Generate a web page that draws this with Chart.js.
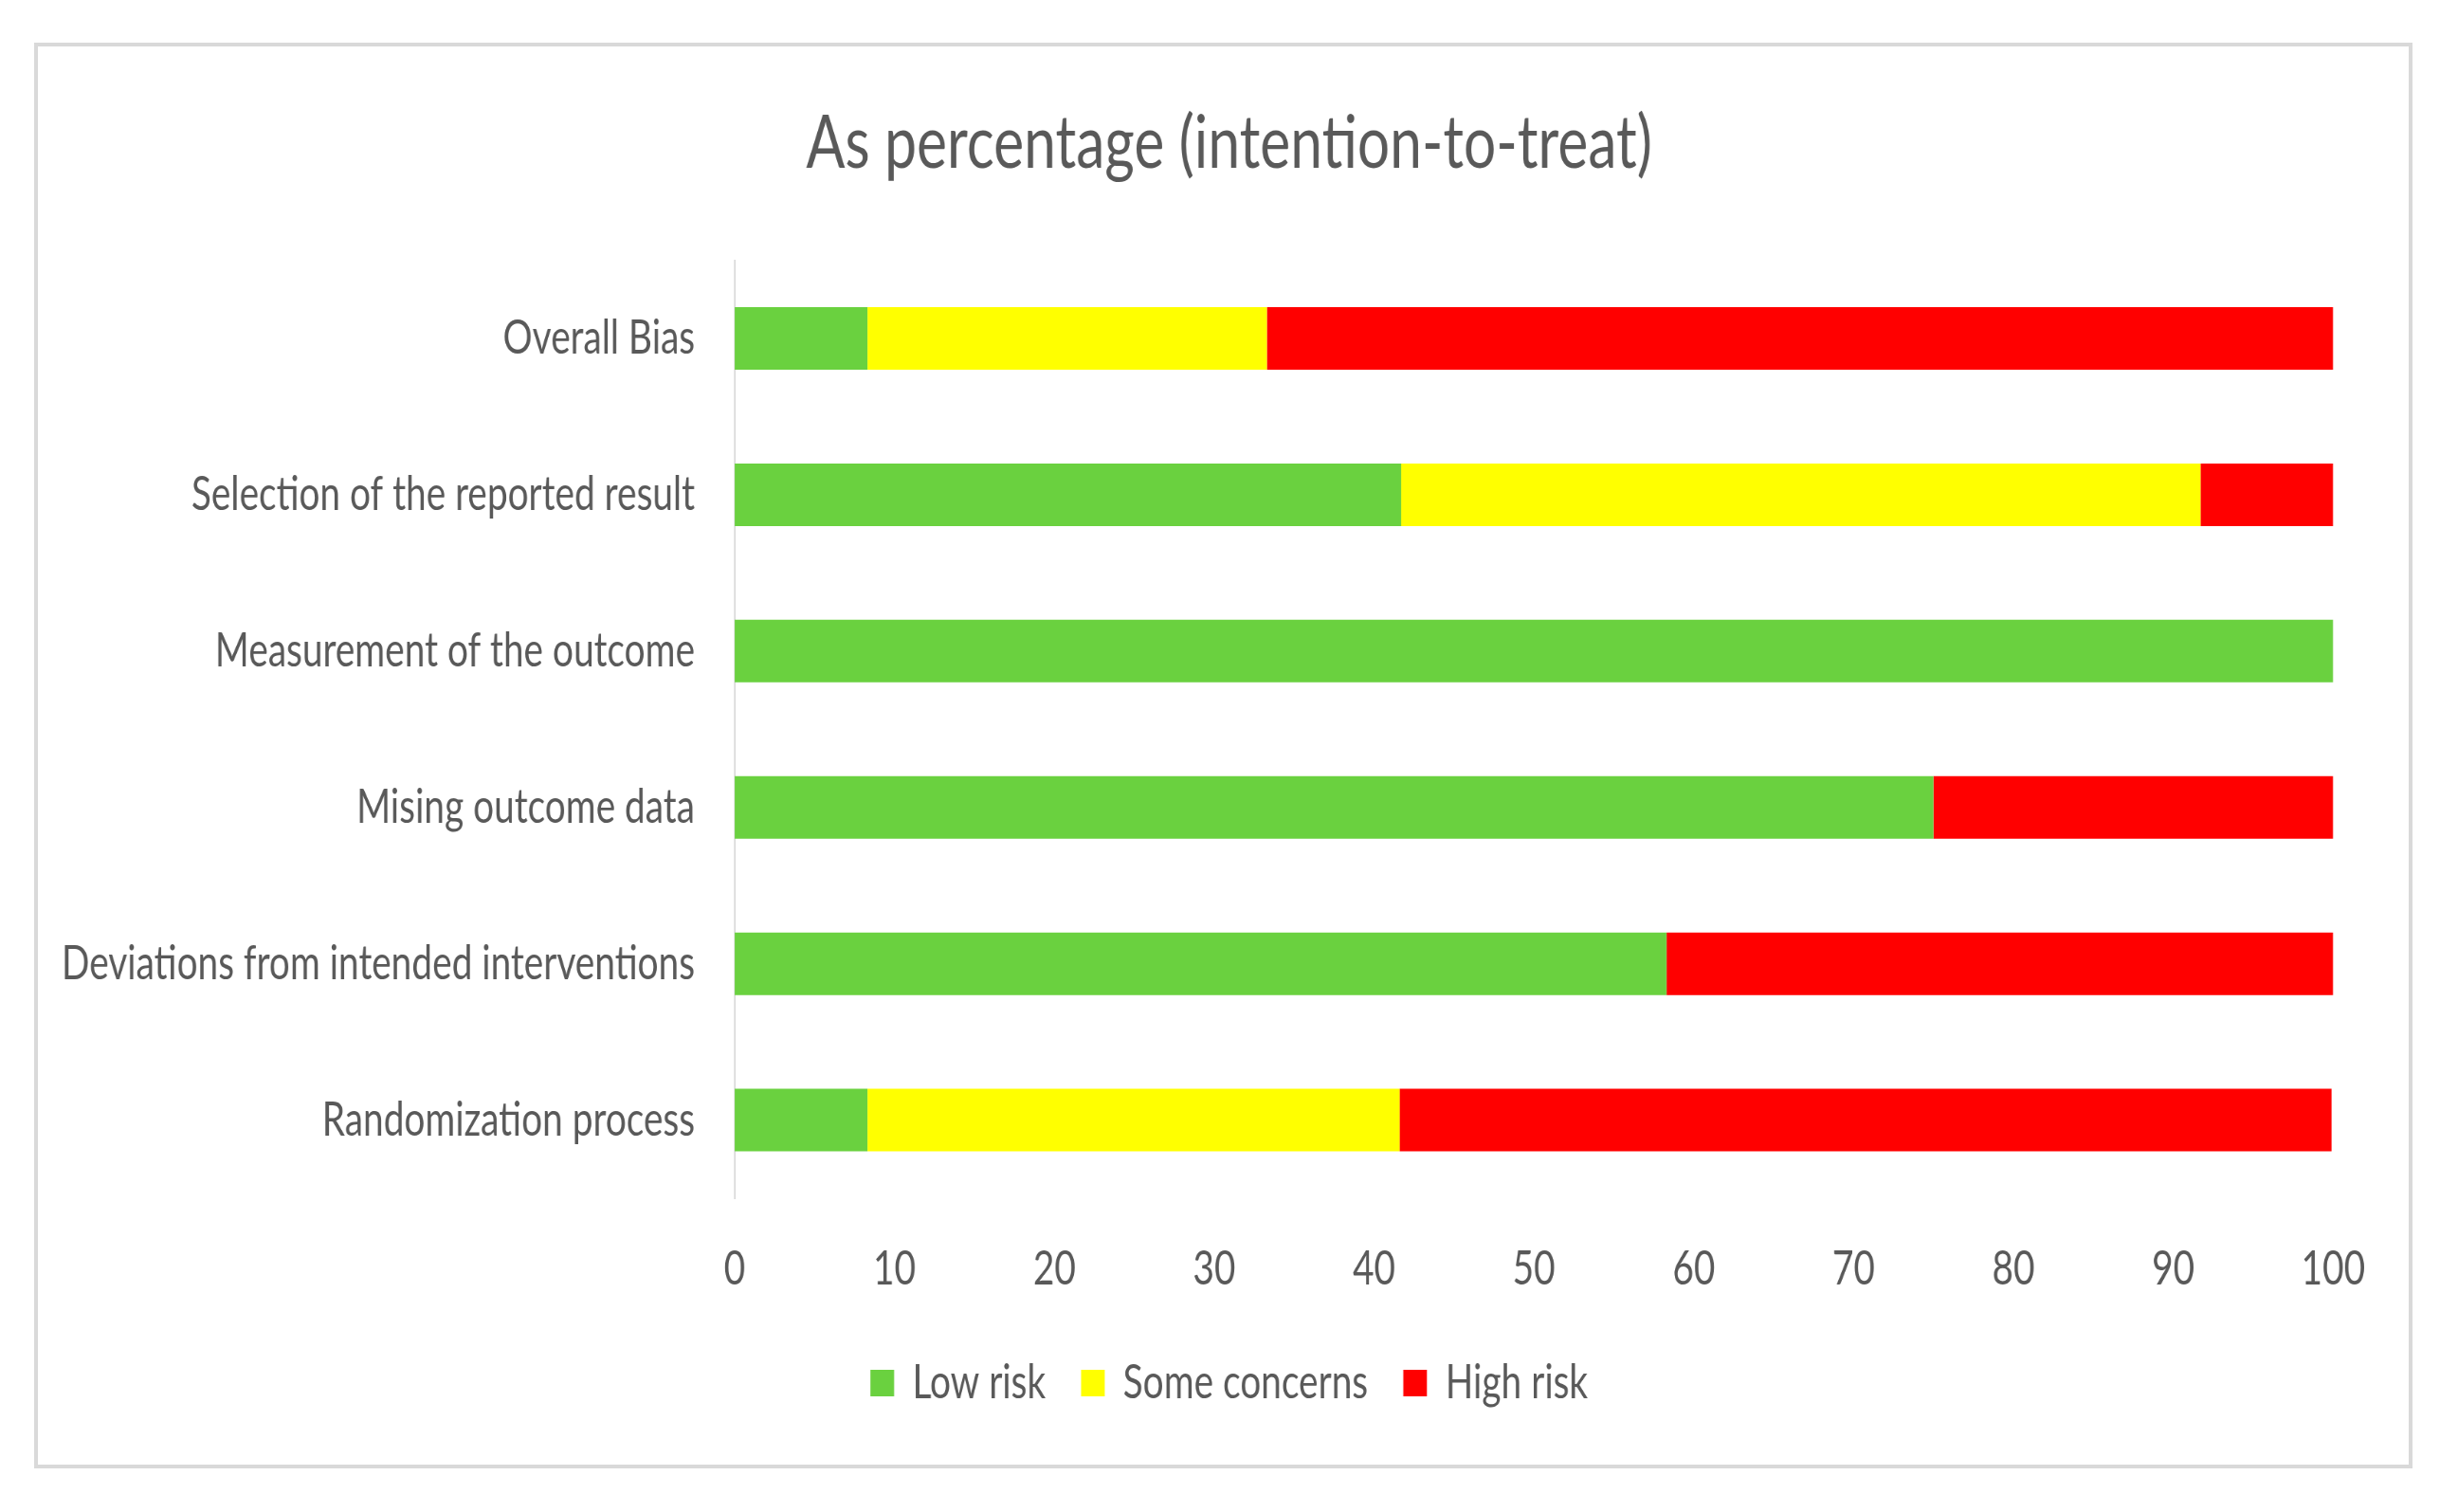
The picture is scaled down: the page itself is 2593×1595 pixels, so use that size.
<!DOCTYPE html>
<html lang="en">
<head>
    <meta charset="UTF-8">
    <script src="https://cdn.jsdelivr.net/npm/chart.js"></script>
    <title>As percentage (intention-to-treat)</title>
    <style>
        body { margin: 0; background: #fff; overflow: hidden; }
        #wrap { position: relative; width: 2593px; height: 1595px; overflow: hidden; }
        #frame {
            position: absolute; left: 36px; top: 45px; width: 2509px; height: 1504px;
            border: 4px solid #d9d9d9; box-sizing: border-box; pointer-events: none;
        }
        #myChart { position: absolute; left: 0; top: 0; transform-origin: 0 0; }
    </style>
</head>
<body>
    <div id="wrap">
        <canvas id="myChart"></canvas>
        <div id="frame"></div>
    </div>
    <script>
        const domains = [
            'Overall Bias',
            'Selection of the reported result',
            'Measurement of the outcome',
            'Mising outcome data',
            'Deviations from intended interventions',
            'Randomization process'
        ]
        const lowRisk = [8.3, 41.7, 100, 75, 58.3, 8.3]
        const someConcerns = [25, 50, 0, 0, 0, 33.3]
        const highRisk = [66.7, 8.3, 0, 25, 41.7, 58.3]
        const seriesNames = ['Low risk', 'Some concerns', 'High risk']

        const font = 'Lato, "Open Sans", sans-serif'
        const textColor = '#595959'
        const labelSize = 50

        // the reference text is a narrow face, so the whole chart is squeezed sideways
        const probe = document.createElement('canvas').getContext('2d')
        probe.font = `${labelSize}px ${font}`
        const squeeze = 668 / probe.measureText(domains[4]).width
        const W = 2593 / squeeze
        const px = v => v / squeeze

        const ctx = document.getElementById('myChart')
        ctx.width = Math.round(W)
        ctx.height = 1595
        ctx.style.transform = `scaleX(${squeeze})`

        new Chart(ctx, {
            type: 'bar',
            data: {
                labels: domains,
                datasets: [
                    { label: seriesNames[0], data: lowRisk, backgroundColor: '#6AD13F' },
                    { label: seriesNames[1], data: someConcerns, backgroundColor: '#FFFF00' },
                    { label: seriesNames[2], data: highRisk, backgroundColor: '#FF0000' }
                ]
            },
            options: {
                indexAxis: 'y',
                responsive: false,
                devicePixelRatio: 1,
                animation: false,
                categoryPercentage: 1,
                barPercentage: 0.4,
                borderWidth: 0,
                layout: { padding: { top: 0, left: 0, right: 0, bottom: 101 } },
                plugins: {
                    title: {
                        display: true,
                        text: 'As percentage (intention-to-treat)',
                        color: textColor,
                        font: { family: font, size: 78, weight: 'normal' },
                        padding: { top: 105, bottom: 76 }
                    },
                    legend: {
                        position: 'bottom',
                        labels: {
                            color: textColor,
                            font: { family: font, size: labelSize },
                            boxWidth: px(25),
                            boxHeight: 28,
                            padding: 48
                        }
                    },
                    tooltip: { enabled: false }
                },
                scales: {
                    x: {
                        stacked: true,
                        min: 0,
                        max: 100,
                        grid: { display: false, drawTicks: false },
                        border: { display: false },
                        ticks: {
                            stepSize: 10,
                            autoSkip: false,
                            maxRotation: 0,
                            padding: 45,
                            color: textColor,
                            font: { family: font, size: labelSize }
                        },
                        afterFit: (scale) => { scale.height = 122 }
                    },
                    y: {
                        stacked: true,
                        grid: { display: false, drawTicks: false },
                        border: { display: true, color: '#d9d9d9', width: 2 },
                        ticks: {
                            padding: px(42),
                            color: textColor,
                            font: { family: font, size: labelSize }
                        },
                        afterFit: (scale) => { scale.width = px(775) }
                    },
                    // empty right-hand axis: keeps the plot off the right edge
                    // while title and legend stay centred on the whole page
                    yRight: {
                        type: 'category',
                        position: 'right',
                        grid: { display: false, drawTicks: false },
                        border: { display: false },
                        ticks: { display: false },
                        afterFit: (scale) => { scale.width = px(132) }
                    }
                }
            }
        })
    </script>
</body>
</html>
